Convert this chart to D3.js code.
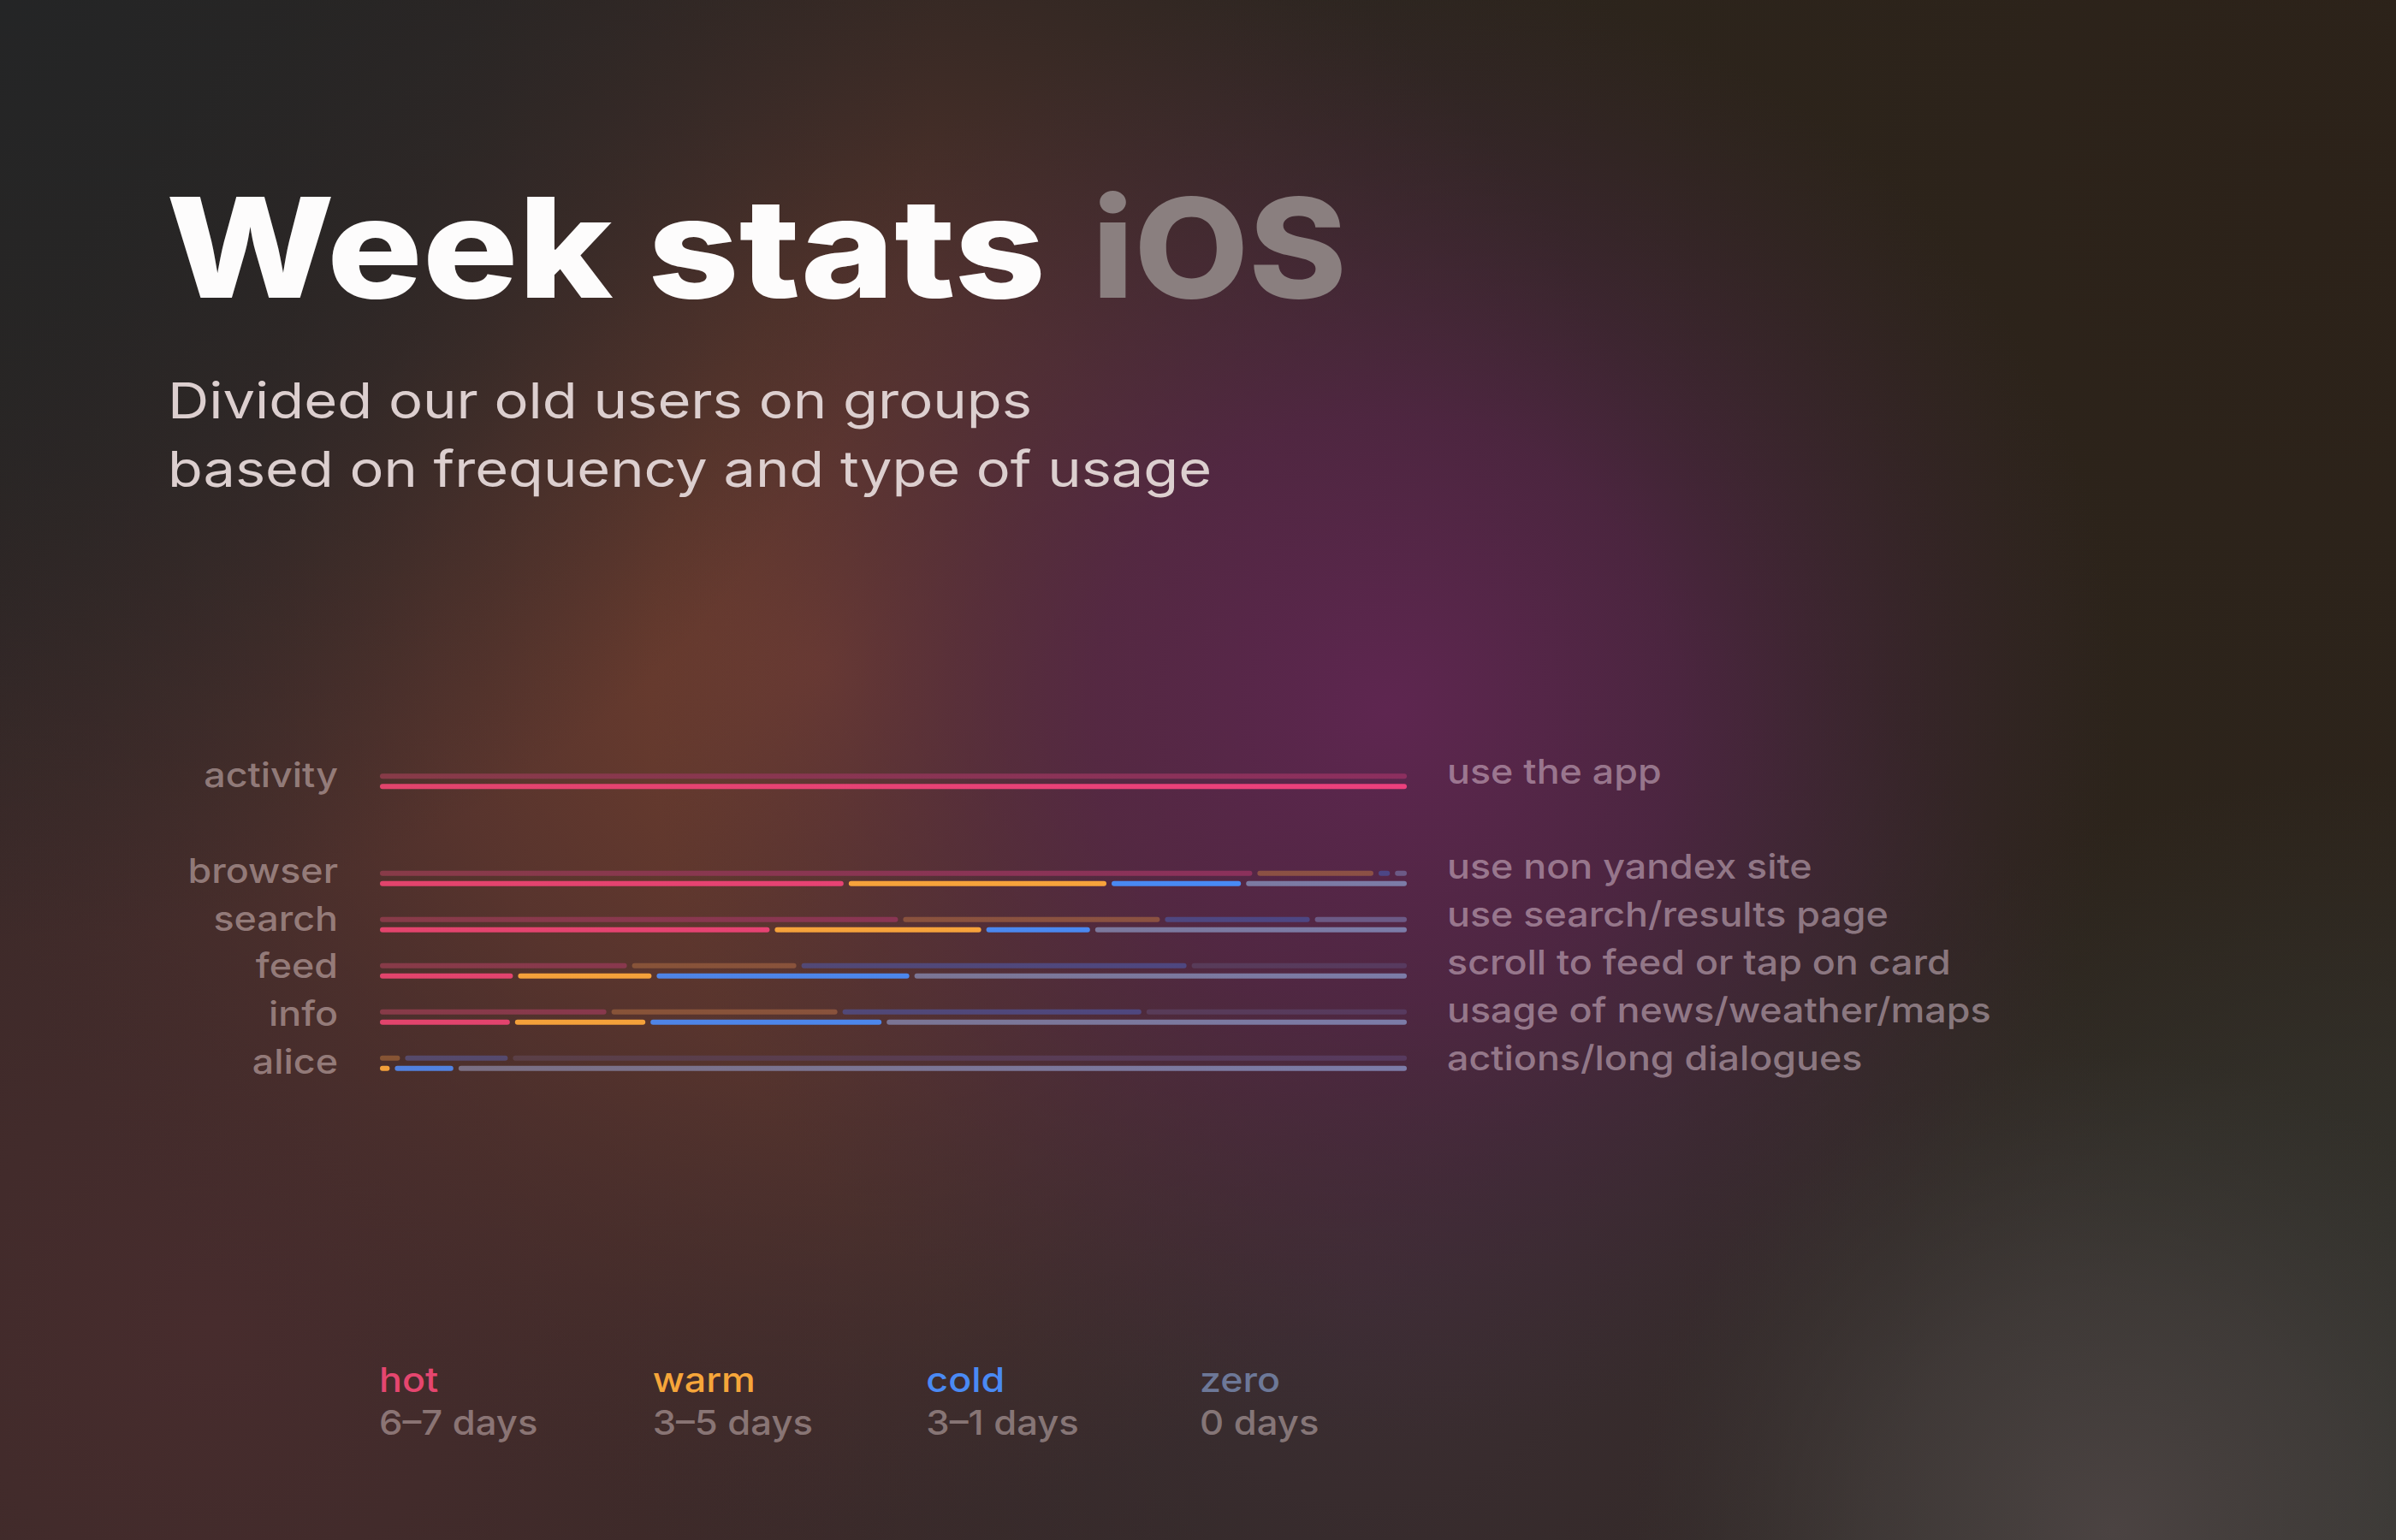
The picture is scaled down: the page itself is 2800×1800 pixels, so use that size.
<!DOCTYPE html>
<html><head><meta charset="utf-8">
<script src="https://cdn.jsdelivr.net/npm/d3@7"></script>
<style>html,body{margin:0;padding:0;background:#2a2423;} svg{display:block;}</style>
</head><body>
<svg id="c" width="2800" height="1800"></svg>
<script>
// ---------- data ----------
const categories   = ["activity","browser","search","feed","info","alice"];
const descriptions = ["use the app","use non yandex site","use search/results page","scroll to feed or tap on card","usage of news/weather/maps","actions/long dialogues"];
const groups       = ["hot","warm","cold","zero"];
const groupRanges  = ["6–7 days","3–5 days","3–1 days","0 days"];

// bright (lower) bar, % of users
const hotNow  = [100, 45.4, 38.2, 13.2, 12.9, 0];
const warmNow = [0,   25.6, 20.6, 13.5, 13.2, 1.2];
const coldNow = [0,   13.1, 10.6, 25.1, 23.0, 6.2];
const zeroNow = [0,   15.9, 30.6, 48.2, 50.9, 92.6];

// dim (upper) bar, % of users
const hotTop  = [100, 85.2, 50.7, 24.3, 22.3, 0];
const warmTop = [0,   11.8, 25.5, 16.5, 22.5, 2.2];
const coldTop = [0,   1.6,  14.6, 38.0, 29.6, 10.5];
const zeroTop = [0,   1.4,  9.2,  0,    0,    0];
const restTop = [0,   0,    0,    21.2, 25.6, 87.3];

const titleMain = "Week stats";
const titleAccent = "iOS";
const subtitleLines = ["Divided our old users on groups","based on frequency and type of usage"];

// ---------- setup ----------
const W = 2800, H = 1800;
const svg = d3.select("#c");
const defs = svg.append("defs");

function radial(id, cx, cy, r, stops) {
  const g = defs.append("radialGradient").attr("id", id)
    .attr("gradientUnits","userSpaceOnUse").attr("cx",cx).attr("cy",cy).attr("r",r);
  stops.forEach(s => g.append("stop").attr("offset",s[0]).attr("stop-color",s[1]).attr("stop-opacity",s[2]));
  svg.append("rect").attr("width",W).attr("height",H).attr("fill",`url(#${id})`);
}
svg.append("rect").attr("width",W).attr("height",H).attr("fill","#2d2621");
radial("bgTR", 2700, 250, 1300, [[0,"#2c2219",1],[0.6,"#2c2319",0.7],[1,"#2c2319",0]]);
radial("bgBRc", 2800, 1800, 900, [[0,"#363833",1],[0.6,"#35352f",0.6],[1,"#34332d",0]]);
radial("bgBL", 250, 1550, 1200, [[0,"#472c2d",1],[0.6,"#452c2d",0.6],[1,"#432b2c",0]]);
radial("bgBM", 1600, 1500, 900, [[0,"#3e2f35",0.9],[1,"#3e2f35",0]]);
radial("bgWarm", 960, 780, 1000, [[0,"#75402f",1],[0.45,"#62382f",0.72],[1,"#4a2e2c",0]]);
radial("bgPurp", 1620, 830, 860, [[0,"#5e2650",1],[0.4,"#532548",0.78],[1,"#3e2a38",0]]);
radial("bgTL", 0, 0, 1100, [[0,"#242526",1],[0.5,"#252526",0.65],[1,"#262526",0]]);
radial("bgBR", 2470, 1790, 560, [[0,"#4b4342",1],[0.5,"#463f3e",0.6],[1,"#3c3836",0]]);

// ---------- scales ----------
const x = d3.scaleLinear().domain([0,100]).range([444,1644]);
const slot = i => i === 0 ? -2.1 : i - 1;
const barY = d3.scaleLinear().domain([0,4]).range([1032.7,1248.7]);
const labelSlot = i => i === 0 ? -2 : i - 1;
const labelY = d3.scaleLinear().domain([0,4]).range([1031.7,1255]);
const legendX = d3.scalePoint().domain(groups).range([443,1402]);

const barH = 6, gap = 6, rowOffset = 12;

// colour gradients along x
const barColors = {
  now: {hot:["#e2446c","#ec407d"], warm:["#f3a03a","#f9a43c"], cold:["#5281de","#468cfa"], zero:["#7a6e80","#7c7ca8"]},
  top: {hot:["#873b48","#8c2f5f"], warm:["#865434","#8c5046"], cold:["#564a6a","#4c4686"], zero:["#6a5a7a","#6c5a86"], rest:["#5b4043","#573a5f"]}
};
Object.entries(barColors).forEach(([layer, m]) => {
  Object.entries(m).forEach(([k, c]) => {
    const g = defs.append("linearGradient").attr("id",`g-${layer}-${k}`)
      .attr("gradientUnits","userSpaceOnUse").attr("x1",x(0)).attr("x2",x(100)).attr("y1",0).attr("y2",0);
    g.append("stop").attr("offset",0).attr("stop-color",c[0]);
    g.append("stop").attr("offset",1).attr("stop-color",c[1]);
  });
});

// ---------- title ----------
function stretch(sel, k) {
  sel.each(function(){
    const w = this.getComputedTextLength();
    d3.select(this).attr("textLength", w * k).attr("lengthAdjust","spacingAndGlyphs");
  });
}
svg.append("text").attr("x",194).attr("y",348)
  .attr("font-family","Inter").attr("font-weight",800).attr("font-size",162)
  .attr("fill","#fdfcfc").attr("textLength",1028).attr("lengthAdjust","spacingAndGlyphs")
  .text(titleMain);
svg.append("text").attr("x",1276).attr("y",348)
  .attr("font-family","Inter").attr("font-weight",800).attr("font-size",162)
  .attr("fill","#8a7f7f").attr("textLength",298).attr("lengthAdjust","spacingAndGlyphs")
  .text(titleAccent);

svg.selectAll(".sub").data(subtitleLines).join("text").attr("class","sub")
  .attr("x",196).attr("y",(d,i)=>489 + i*80)
  .attr("font-family","Inter").attr("font-weight",400).attr("font-size",58)
  .attr("fill","#dccfcf")
  .attr("textLength",(d,i)=> i===0 ? 1010 : 1220).attr("lengthAdjust","spacingAndGlyphs")
  .text(d=>d);

// ---------- bars ----------
const gBars = svg.append("g");
function drawLayer(keys, arrays, layer, dy) {
  const rows = categories.map((c,i) => {
    const o = {cat:c};
    keys.forEach((k,j) => o[k] = arrays[j][i]);
    return o;
  });
  const series = d3.stack().keys(keys)(rows);
  const segs = [];
  series.forEach(s => s.forEach((d,i) => {
    if (d[1] - d[0] > 0) segs.push({key:s.key, i, x0:d[0], x1:d[1]});
  }));
  gBars.append("g").selectAll("rect").data(segs).join("rect")
    .attr("x", d => x(d.x0) + (d.x0 > 0.05 ? gap/2 : 0))
    .attr("width", d => (x(d.x1) - (d.x1 < 99.95 ? gap/2 : 0)) - (x(d.x0) + (d.x0 > 0.05 ? gap/2 : 0)))
    .attr("y", d => barY(slot(d.i)) + dy - barH/2)
    .attr("height", barH).attr("rx", barH/2).attr("ry", barH/2)
    .attr("fill", d => `url(#g-${layer}-${d.key})`);
}
drawLayer(["hot","warm","cold","zero","rest"], [hotTop,warmTop,coldTop,zeroTop,restTop], "top", -rowOffset);
drawLayer(groups, [hotNow,warmNow,coldNow,zeroNow], "now", 0);

// ---------- labels ----------
const labelFont = {family:"Inter", size:40, weight:500};
svg.append("g").selectAll("text").data(categories).join("text")
  .attr("x",395).attr("y",(d,i)=>labelY(labelSlot(i)))
  .attr("text-anchor","end")
  .attr("font-family",labelFont.family).attr("font-size",labelFont.size).attr("font-weight",labelFont.weight)
  .attr("fill","rgba(245,222,222,0.45)")
  .text(d=>d).call(stretch, 1.12);

svg.append("g").selectAll("text").data(descriptions).join("text")
  .attr("x",1691).attr("y",(d,i)=>labelY(labelSlot(i)) - 4.5)
  .attr("font-family",labelFont.family).attr("font-size",labelFont.size).attr("font-weight",labelFont.weight)
  .attr("fill","rgba(245,222,235,0.45)")
  .text(d=>d).call(stretch, 1.12);

// ---------- legend ----------
const legendColors = {hot:"#e5466f", warm:"#f6a63a", cold:"#4a8af4", zero:"#6d7898"};
const lg = svg.append("g");
lg.selectAll(".ln").data(groups).join("text").attr("class","ln")
  .attr("x",d=>legendX(d)).attr("y",1627)
  .attr("font-family",labelFont.family).attr("font-size",labelFont.size).attr("font-weight",labelFont.weight)
  .attr("fill",d=>legendColors[d]).text(d=>d).call(stretch, 1.12);
lg.selectAll(".lr").data(groupRanges).join("text").attr("class","lr")
  .attr("x",(d,i)=>legendX(groups[i])).attr("y",1677)
  .attr("font-family",labelFont.family).attr("font-size",labelFont.size).attr("font-weight",labelFont.weight)
  .attr("fill","rgba(245,225,225,0.42)").text(d=>d).call(stretch, 1.09);
</script>
</body></html>
